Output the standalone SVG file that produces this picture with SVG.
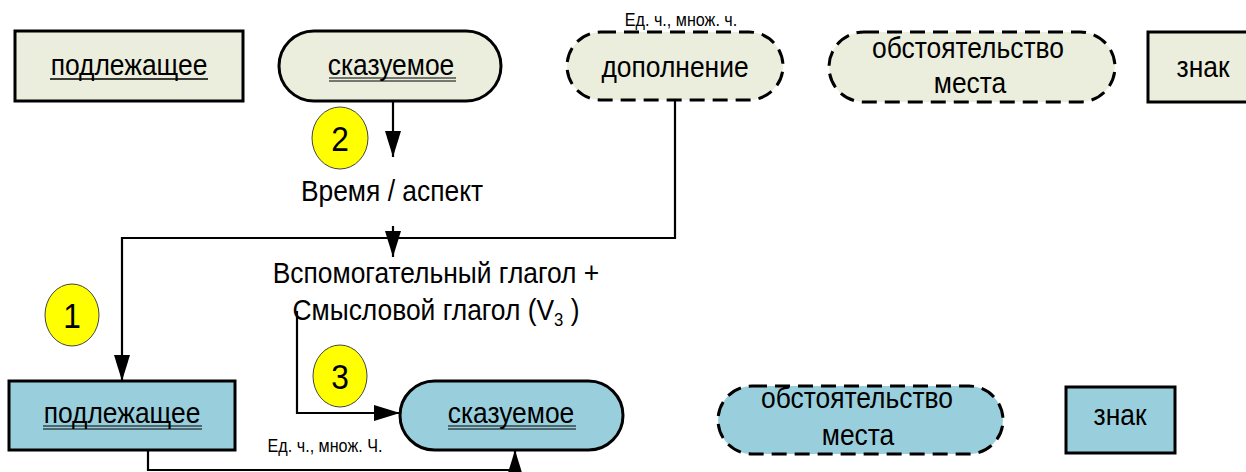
<svg xmlns="http://www.w3.org/2000/svg" width="1246" height="472" viewBox="0 0 1246 472">
<defs>
<style>
text{font-family:"Liberation Sans",Arial,sans-serif;fill:#000;text-anchor:middle}
.big{font-size:30px}
.small{font-size:19px}
.num{font-size:36px}
.top{fill:#ebeedd;stroke:#000;stroke-width:3}
.bot{fill:#99cfdd;stroke:#000;stroke-width:3}
.dash{stroke-dasharray:15 8}
.ul{stroke:#000;stroke-width:1.5}
.ul2{stroke:#000;stroke-width:1}
.con{fill:none;stroke:#000;stroke-width:2.2}
.circ{fill:#ffff00;stroke:#444;stroke-width:1}
</style>
<marker id="ah" viewBox="0 0 26 16" refX="26" refY="8" markerWidth="26" markerHeight="16" orient="auto" markerUnits="userSpaceOnUse">
<path d="M0,0 L26,8 L0,16 Z" fill="#000"/>
</marker>
</defs>

<g id="top-podlezhashchee">
<rect class="top" x="15" y="31" width="228" height="70"/>
<text class="big" transform="translate(129,75) scale(0.88,1)">подлежащее</text>
<line class="ul" x1="50" y1="79" x2="208" y2="79"/>
</g>
<g id="top-skazuemoe">
<rect class="top" x="279" y="31" width="222" height="70" rx="35" ry="35"/>
<text class="big" transform="translate(391,75) scale(0.88,1)">сказуемое</text>
<line class="ul2" x1="329" y1="78" x2="456" y2="78"/>
<line class="ul2" x1="329" y1="81" x2="456" y2="81"/>
</g>
<g id="top-dopolnenie">
<rect class="top dash" x="567" y="32" width="216" height="68" rx="34" ry="34"/>
<text class="big" transform="translate(675,77) scale(0.88,1)">дополнение</text>
</g>
<g id="top-obstoyatelstvo">
<rect class="top dash" x="829" y="32" width="286" height="70" rx="35" ry="35"/>
<text class="big" transform="translate(968,58) scale(0.88,1)">обстоятельство</text>
<text class="big" transform="translate(970,93) scale(0.88,1)">места</text>
</g>
<g id="top-znak">
<rect class="top" x="1148" y="32" width="110" height="70"/>
<text class="big" transform="translate(1203,77) scale(0.88,1)">знак</text>
</g>

<g id="label-ed-top"><text class="small" transform="translate(681,26) scale(0.85,1)">Ед. ч., множ. ч.</text></g>
<g id="label-vremya"><text class="big" transform="translate(392,201) scale(0.88,1)">Время / аспект</text></g>
<g id="label-vspom">
<text class="big" transform="translate(436,283) scale(0.88,1)">Вспомогательный глагол +</text>
<text class="big" transform="translate(436,320) scale(0.88,1)">Смысловой глагол (V<tspan font-size="19" dy="6">3</tspan><tspan dy="-6"> )</tspan></text>
</g>
<g id="label-ed-bot"><text class="small" transform="translate(325,452) scale(0.85,1)">Ед. ч., множ. Ч.</text></g>

<g id="bot-podlezhashchee">
<rect class="bot" x="9" y="381" width="226" height="69"/>
<text class="big" transform="translate(122,423) scale(0.88,1)">подлежащее</text>
<line class="ul2" x1="43" y1="426" x2="202" y2="426"/>
<line class="ul2" x1="43" y1="429" x2="202" y2="429"/>
</g>
<g id="bot-skazuemoe">
<rect class="bot" x="400" y="381" width="223" height="69" rx="34.5" ry="34.5"/>
<text class="big" transform="translate(511,423) scale(0.88,1)">сказуемое</text>
<line class="ul2" x1="448" y1="426" x2="576" y2="426"/>
<line class="ul2" x1="448" y1="429" x2="576" y2="429"/>
</g>
<g id="bot-obstoyatelstvo">
<rect class="bot dash" x="718" y="386" width="285" height="68" rx="34" ry="34"/>
<text class="big" transform="translate(857,408) scale(0.88,1)">обстоятельство</text>
<text class="big" transform="translate(858,445) scale(0.88,1)">места</text>
</g>
<g id="bot-znak">
<rect class="bot" x="1066" y="387" width="109" height="66"/>
<text class="big" transform="translate(1120,425) scale(0.88,1)">знак</text>
</g>

<g id="badges">
<g id="badge-1"><ellipse class="circ" cx="72" cy="315" rx="27" ry="31"/><text class="num" transform="translate(72,328) scale(0.88,1)">1</text></g>
<g id="badge-2"><ellipse class="circ" cx="340" cy="138" rx="28" ry="31"/><text class="num" transform="translate(340,151) scale(0.88,1)">2</text></g>
<g id="badge-3"><ellipse class="circ" cx="340" cy="376" rx="27" ry="31"/><text class="num" transform="translate(340,389) scale(0.88,1)">3</text></g>
</g>

<g id="connectors">
<path class="con" d="M393,101 V157" marker-end="url(#ah)"/>
<path class="con" d="M675,100 V238 H122 V381" marker-end="url(#ah)"/>
<path class="con" d="M393,226 V257" marker-end="url(#ah)"/>
<path class="con" d="M297,311 V413 H400" marker-end="url(#ah)"/>
<path class="con" d="M148,450 V470 H515 V450" marker-end="url(#ah)"/>
</g>
</svg>
